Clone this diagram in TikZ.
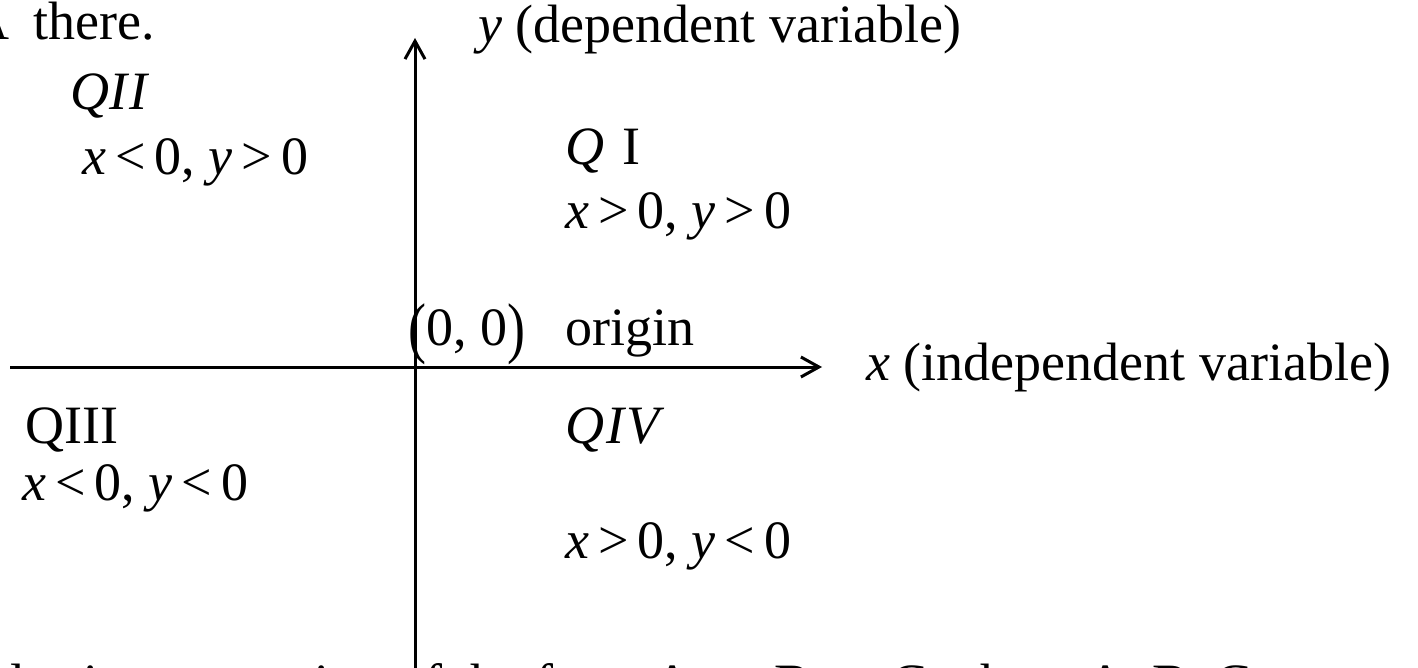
\documentclass[tikz,border=0pt]{standalone}
\usepackage{fontspec}
\setmainfont{Liberation Serif}
\usepackage{graphicx}
\usetikzlibrary{arrows.meta,positioning}
\newcommand{\vx}{\textit{x}}
\newcommand{\vy}{\textit{y}}
\newcommand{\tallparen}[1]{\raisebox{-0.1em}{\scalebox{1}[1.25]{#1}}}
\tikzset{
  lbl/.style={anchor=base west,inner sep=0pt,font=\fontsize{27}{32}\selectfont},
  axis/.style={line width=1.5pt,-{Straight Barb[length=9pt,width=10pt]}},
}
\begin{document}
\begin{tikzpicture}[x=0.5pt,y=-0.5pt]
\useasboundingbox (0,0) rectangle (1418,668);
\clip (0,0) rectangle (1418,668);
% axes
\coordinate (O) at (415,367);
\coordinate (xl) at (10,367);
\coordinate (xr) at (822,367);
\coordinate (yb) at (415,690);
\coordinate (yt) at (415,38);
\draw[axis] (xl) -- (xr);
\draw[axis] (yb) -- (yt);

% axis labels
\node[lbl] (ylab) at (478,43) {\vy{} (dependent variable)};
\node[lbl] (xlab) at (866,380) {\vx{} (independent variable)};
\node[lbl] (orig) at (408,345) {\tallparen{(}0, 0\tallparen{)}\hspace{0.75em}origin};

% quadrants
\node[lbl] (q2) at (70,110) {\textit{QI\kern1pt I}};
\node[lbl] (q2c) at (82,175) {\vx\,<\,0, \vy\,>\,0};
\node[lbl] (q1) at (565,165) {\textit{Q}\,\,I};
\node[lbl] (q1c) at (565,228) {\vx\,>\,0, \vy\,>\,0};
\node[lbl] (q3) at (25,443) {QIII};
\node[lbl] (q3c) at (22,500) {\vx\,<\,0, \vy\,<\,0};
\node[lbl] (q4) at (565,443) {\textit{Q\kern1pt I\kern1pt V}};
\node[lbl] (q4c) at (565,558) {\vx\,>\,0, \vy\,<\,0};

% cut-off lines of the slide
\node[lbl] (top) at (-30,40) {A\hspace{0.45em}there.};
\node[lbl] (bot) at (-125,701) {variables is an equation of the form A\textit{x} + B\textit{y} = C where A, B, C};
\end{tikzpicture}
\end{document}
